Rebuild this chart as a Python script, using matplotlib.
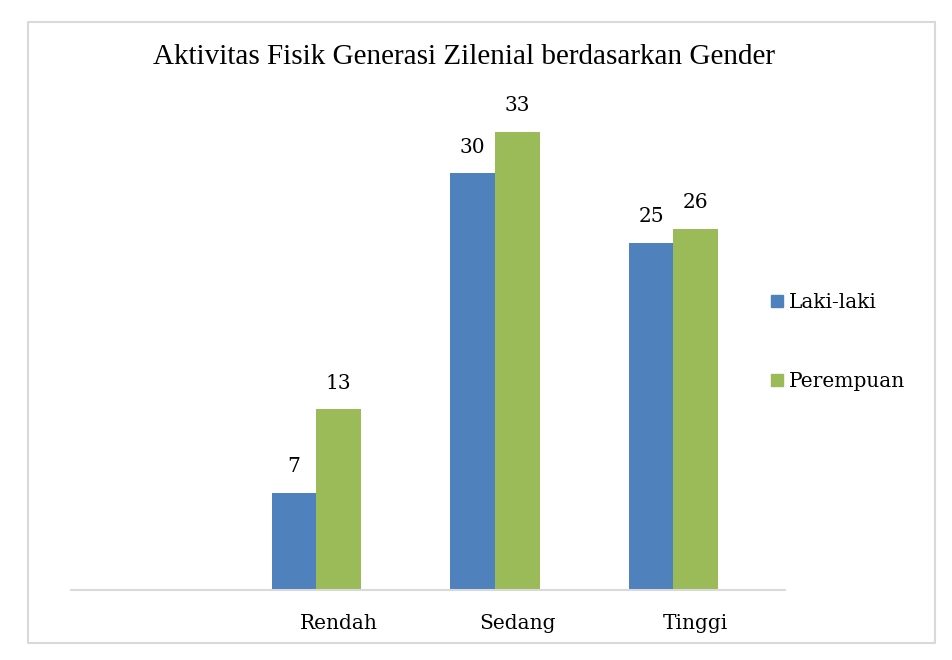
import numpy as np
import matplotlib
matplotlib.use("Agg")
import matplotlib.pyplot as plt
from matplotlib.patches import Rectangle
from matplotlib.lines import Line2D

# data
kategori = ["", "Rendah", "Sedang", "Tinggi"]
laki = [np.nan, 7, 30, 25]
perempuan = [np.nan, 13, 33, 26]
judul = "Aktivitas Fisik Generasi Zilenial berdasarkan Gender"

biru = "#4F81BD"
hijau = "#9BBB59"
abu = "#D9D9D9"

plt.rcParams["font.family"] = ["DejaVu Serif"]

fig = plt.figure(figsize=(9.52, 6.6), dpi=100)
ax = fig.add_axes([71 / 952, 70 / 660, (785 - 71) / 952, 486 / 660])

x = np.arange(len(kategori))
w = 0.25
b1 = ax.bar(x - w, laki, w, color=biru, label="Laki-laki")
b2 = ax.bar(x, perempuan, w, color=hijau, label="Perempuan")

for bars in (b1, b2):
    for r in bars:
        h = r.get_height()
        if np.isnan(h):
            continue
        ax.annotate(f"{h:.0f}", (r.get_x() + r.get_width() / 2, h),
                    xytext=(0, 12), textcoords="offset points",
                    ha="center", va="bottom", fontsize=14.5)

ax.set_xlim(-0.5, len(kategori) - 0.5)
ax.set_ylim(0, 35)
ax.set_xticks(x)
ax.set_xticklabels(kategori, fontsize=14.5)
ax.tick_params(axis="x", length=0, pad=17)
ax.set_yticks([])
for s in ["top", "right", "left"]:
    ax.spines[s].set_visible(False)
ax.spines["bottom"].set_color(abu)
ax.spines["bottom"].set_linewidth(1.5)

# judul: font lebih sempit supaya lebarnya mirip
fig.text(464 / 952, 1 - 57 / 660, judul, ha="center", va="center",
         fontsize=21, family=["Liberation Serif"])

handles = [Line2D([], [], marker="s", ls="", color=biru, markersize=9),
           Line2D([], [], marker="s", ls="", color=hijau, markersize=9)]
fig.legend(handles, ["Laki-laki", "Perempuan"], loc="center left",
           bbox_to_anchor=(761 / 952, 1 - 342 / 660), frameon=False,
           fontsize=14.5, handlelength=0.6, handletextpad=0.3,
           labelspacing=3.0, borderpad=0)

# border around chart
fig.patches.append(Rectangle((28 / 952, 1 - 643 / 660), (935 - 28) / 952, (643 - 22) / 660,
                             transform=fig.transFigure, fill=False,
                             edgecolor=abu, linewidth=1.5))

fig.savefig("out.png", dpi=100)
